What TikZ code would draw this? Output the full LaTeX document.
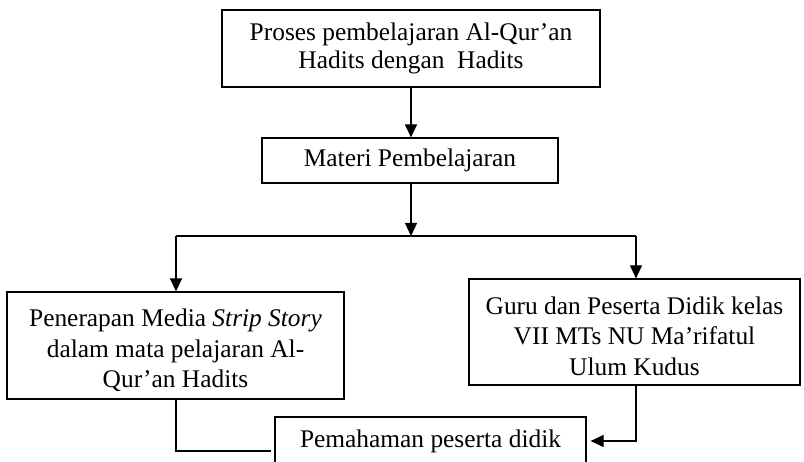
\documentclass[tikz,border=0pt]{standalone}
\usepackage{fontspec}
\setmainfont{Liberation Serif}
\usepackage{tikz}
\usetikzlibrary{positioning, arrows.meta}

\begin{document}
\begin{tikzpicture}[
		x=1pt, y=-1pt,
		line width=1.2pt,
		box/.style={draw,rectangle,align=center,inner sep=0pt,font=\fontsize{25.4}{28}\selectfont},
		tallbox/.style={box,font=\fontsize{25.4}{30.5}\selectfont},
		arr/.style={-{Triangle[length=13pt,width=12pt]}}]
		\useasboundingbox (0,0) rectangle (804,462);
		\clip (0,0) rectangle (804,462);
		\node[box,minimum width=378pt,minimum height=77pt] (proses) at (411,48.5) {Proses pembelajaran Al-Qur'an\\Hadits dengan\ \ Hadits};
		\node[box,minimum width=296pt,minimum height=45pt] (materi) at (410,160.5) {Materi Pembelajaran};
		\node[tallbox,minimum width=337pt,minimum height=107pt] (penerapan) at (175.5,345.5) {\rule{0pt}{28pt}Penerapan Media \textit{Strip Story}\\dalam mata pelajaran Al-\\Qur'an Hadits};
		\node[tallbox,minimum width=331pt,minimum height=106pt] (guru) at (634.5,332) {\rule{0pt}{26pt}Guru dan Peserta Didik kelas\\VII MTs NU Ma'rifatul\\Ulum Kudus};
		\node[box,minimum width=311pt,text height=31pt,text depth=30pt,anchor=base] (paham) at (430.5,448) {Pemahaman peserta didik};
		\coordinate (split) at (411,236);
		\coordinate (lt) at (176,236);
		\coordinate (rt) at (636,236);
		\draw[arr] (proses.south) -- (proses.south |- materi.north);
		\draw[arr] (materi.south -| split) -- (split);
		\draw (lt) -- (rt);
		\draw[arr] (lt) -- (lt |- penerapan.north);
		\draw[arr] (rt) -- (rt |- guru.north);
		% both branches meet again at the last box
		\draw[shorten >=3pt] (lt |- penerapan.south) |- ([yshift=-3pt]paham.base west);
		\draw[arr,shorten >=4pt] (rt |- guru.south) |- ([yshift=7pt]paham.base east);
	\end{tikzpicture}
\end{document}
